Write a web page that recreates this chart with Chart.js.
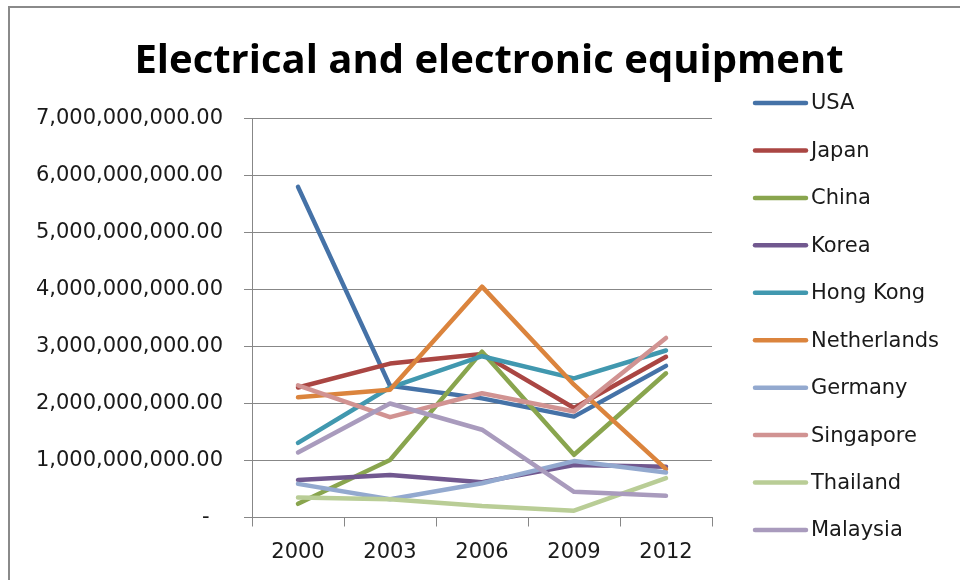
<!DOCTYPE html>
<html lang="en">
<head>
    <meta charset="UTF-8">
    <title>Electrical and electronic equipment</title>
    <script src="https://cdn.jsdelivr.net/npm/chart.js"></script>
    <style>
        body { margin: 0; background: #fff; }
        #wrap { position: relative; width: 960px; height: 580px; }
    </style>
</head>
<body>
    <div id="wrap">
        <canvas id="chart" width="960" height="580"></canvas>
    </div>

    <script>
        const years = ['2000', '2003', '2006', '2009', '2012'];
        const countries = ['USA', 'Japan', 'China', 'Korea', 'Hong Kong', 'Netherlands', 'Germany', 'Singapore', 'Thailand', 'Malaysia'];
        const colors = ['#4572A7', '#AA4643', '#89A54E', '#71588F', '#4198AF', '#DB843D', '#93A9CF', '#D19392', '#B9CD96', '#A99BBD'];

        const usa = [5.80e9, 2.31e9, 2.09e9, 1.77e9, 2.66e9];
        const japan = [2.28e9, 2.70e9, 2.87e9, 1.92e9, 2.82e9];
        const china = [0.24e9, 1.01e9, 2.91e9, 1.10e9, 2.53e9];
        const korea = [0.66e9, 0.745e9, 0.62e9, 0.92e9, 0.89e9];
        const hongKong = [1.31e9, 2.28e9, 2.83e9, 2.44e9, 2.93e9];
        const netherlands = [2.11e9, 2.24e9, 4.05e9, 2.33e9, 0.85e9];
        const germany = [0.59e9, 0.32e9, 0.60e9, 0.99e9, 0.79e9];
        const singapore = [2.32e9, 1.76e9, 2.18e9, 1.86e9, 3.15e9];
        const thailand = [0.35e9, 0.32e9, 0.20e9, 0.12e9, 0.69e9];
        const malaysia = [1.14e9, 2.00e9, 1.54e9, 0.45e9, 0.38e9];

        const series = [usa, japan, china, korea, hongKong, netherlands, germany, singapore, thailand, malaysia];

        const yMin = 0;
        const yMax = 7e9;
        const yStep = 1e9;

        // reference text is wide, DejaVu gets closest on width
        const FONT = '"DejaVu Sans", "Open Sans", sans-serif';
        const TITLE_FONT = '"Open Sans", Lato, sans-serif';
        const GRID = '#878787';

        // title, frame and legend drawn by hand, Excel style
        const excelBits = {
            id: 'excelBits',
            afterDraw(chart) {
                const ctx = chart.ctx;
                ctx.save();
                ctx.strokeStyle = '#8a8a8a';
                ctx.lineWidth = 2;
                ctx.beginPath();
                ctx.moveTo(9, 580);
                ctx.lineTo(9, 7);
                ctx.lineTo(960, 7);
                ctx.stroke();

                ctx.fillStyle = '#000';
                ctx.font = 'bold 40px ' + TITLE_FONT;
                ctx.textAlign = 'center';
                ctx.textBaseline = 'alphabetic';
                ctx.fillText('Electrical and electronic equipment', 489, 73);

                ctx.font = '21px ' + FONT;
                ctx.textAlign = 'left';
                ctx.textBaseline = 'middle';
                chart.data.datasets.forEach((ds, i) => {
                    const y = 103 + i * 47.44;
                    ctx.strokeStyle = ds.borderColor;
                    ctx.lineWidth = 4.5;
                    ctx.lineCap = 'round';
                    ctx.beginPath();
                    ctx.moveTo(755, y);
                    ctx.lineTo(806, y);
                    ctx.stroke();
                    ctx.fillStyle = '#1a1a1a';
                    ctx.fillText(ds.label, 811, y + 1);
                });
                ctx.restore();
            }
        };

        new Chart(document.getElementById('chart'), {
            type: 'line',
            data: {
                labels: years,
                datasets: series.map((values, i) => ({
                    label: countries[i],
                    data: values,
                    borderColor: colors[i],
                    backgroundColor: colors[i],
                    borderWidth: 4.5,
                    borderCapStyle: 'round',
                    borderJoinStyle: 'round',
                    pointRadius: 0,
                    tension: 0,
                    order: countries.length - i
                }))
            },
            options: {
                responsive: false,
                animation: false,
                layout: { padding: { left: 0, top: 118.5, right: 248, bottom: 0 } },
                plugins: {
                    legend: { display: false },
                    title: { display: false },
                    tooltip: { enabled: false }
                },
                scales: {
                    x: {
                        offset: true,
                        afterFit: scale => { scale.height = 62.5; },
                        grid: {
                            offset: true,
                            drawOnChartArea: false,
                            drawTicks: true,
                            tickLength: 9,
                            color: GRID
                        },
                        border: { color: GRID },
                        ticks: {
                            padding: 13,
                            color: '#1a1a1a',
                            font: { family: FONT, size: 21 }
                        }
                    },
                    y: {
                        min: yMin,
                        max: yMax,
                        afterFit: scale => { scale.width = 252; },
                        grid: { color: GRID, tickLength: 8 },
                        border: { color: GRID },
                        ticks: {
                            stepSize: yStep,
                            padding: 21,
                            color: '#1a1a1a',
                            font: { family: FONT, size: 21 },
                            callback: v => v === 0 ? '-  ' : v.toLocaleString('en-US', { minimumFractionDigits: 2, maximumFractionDigits: 2 })
                        }
                    }
                }
            },
            plugins: [excelBits]
        });
    </script>
</body>
</html>
